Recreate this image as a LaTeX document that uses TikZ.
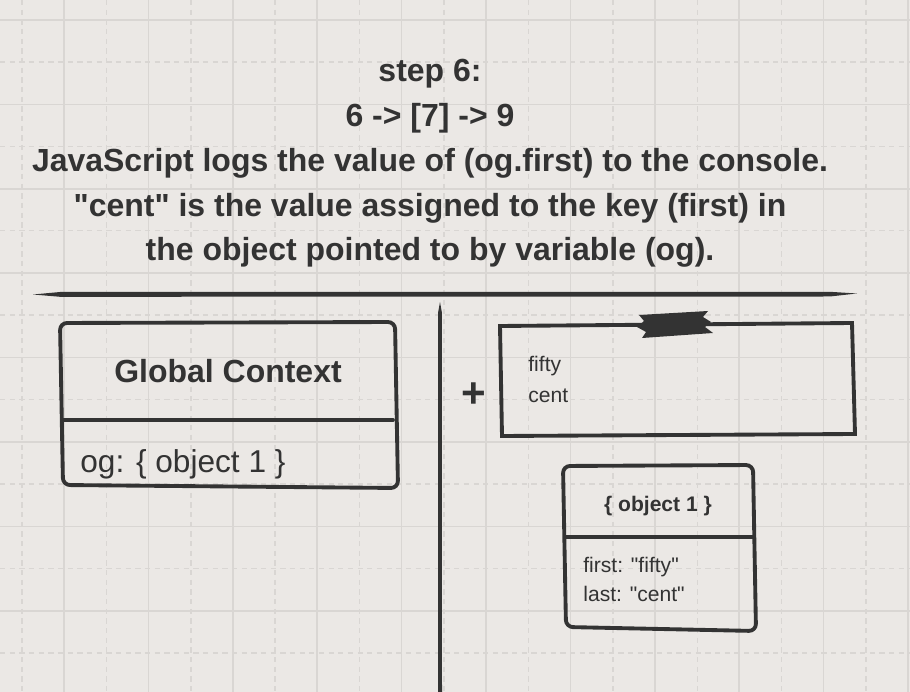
\documentclass[tikz,border=0pt]{standalone}
\usepackage{fontspec}
\setmainfont{Liberation Sans}[Ligatures=TeXOff]
\usepackage{xcolor}
\usepackage{tikz}
\usetikzlibrary{positioning, calc}
\definecolor{ink}{HTML}{333333}
\definecolor{paper}{HTML}{EBE8E5}
\definecolor{gridline}{HTML}{D9D6D3}
\tikzstyle{sketch} = [draw=ink, line width=2.2pt, line join=round, line cap=round]
\tikzstyle{headline} = [font=\fontsize{18.2}{22}\selectfont\bfseries, text=ink, inner sep=0pt, anchor=base]
\tikzstyle{bigtext} = [font=\fontsize{18}{22}\selectfont, text=ink, inner sep=0pt, anchor=base west]
\tikzstyle{smalltext} = [font=\fontsize{12}{14}\selectfont, text=ink, inner sep=0pt, anchor=base west]
\tikzstyle{smallhead} = [font=\fontsize{12}{14}\selectfont\bfseries, text=ink, inner sep=0pt, anchor=base]

\begin{document}
\begin{tikzpicture}[x=0.02cm, y=-0.02cm]
    % Paper and grid
    \fill[paper] (0, 0) rectangle (910, 692);
    \useasboundingbox (0, 0) rectangle (910, 692);
    \foreach \g in {0,...,10} {
        \draw[gridline, line width=1pt] ({64+84.4*\g}, 0) -- ({64+84.4*\g}, 692);
        \draw[gridline, line width=0.8pt, dash pattern=on 3pt off 2.5pt] ({22+84.4*\g}, 0) -- ({22+84.4*\g}, 692);
    }
    \foreach \g in {0,...,8} {
        \draw[gridline, line width=1pt] (0, {20+84.4*\g}) -- (910, {20+84.4*\g});
        \draw[gridline, line width=0.8pt, dash pattern=on 3pt off 2.5pt] (0, {62+84.4*\g}) -- (910, {62+84.4*\g});
    }

    % Heading
    \node[headline] (stepline) at (430, 82) {step 6:};
    \node[headline] (flowline) at (430, 127) {6 -> [7] -> 9};
    \node[headline] (logline) at (430, 172) {JavaScript logs the value of (og.first) to the console.};
    \node[headline] (valueline) at (430, 217) {"cent" is the value assigned to the key (first) in};
    \node[headline] (objline) at (430, 261) {the object pointed to by variable (og).};

    % Dividers
    \fill[ink] (33, 294.5) -- (60, 292) -- (830, 291.8) -- (857, 293.5) -- (830, 296.5) -- (60, 296.8) -- cycle;
    \fill[ink] (440, 302) -- (441.8, 312) -- (442, 692) -- (438, 692) -- (438.2, 312) -- cycle;

    % Global context box
    \draw[sketch, rounded corners=4pt] (60, 323) -- (395, 322) -- (398, 488) -- (63, 485) -- cycle;
    \draw[sketch] (62, 420) -- (393, 420);
    \node[headline] (globalhead) at (228, 383) {Global Context};
    \node[bigtext] (ogvar) at (80, 473) {og: \{ object 1 \}};

    % Console box
    \node[font=\fontsize{24}{26}\selectfont\bfseries, text=ink, inner sep=0pt] (plus) at (474, 395) {+};
    \draw[sketch, line join=miter] (500, 326) -- (852, 323) -- (855, 434) -- (502, 436) -- cycle;
    \fill[ink] (639, 315) -- (708, 311) -- (703, 317) -- (711, 322) -- (705, 327) -- (713, 333)
        -- (642, 338) -- (646, 332) -- (637, 327) -- (644, 321) -- cycle;
    \node[smalltext] (logfifty) at (528, 372) {fifty};
    \node[smalltext] (logcent) at (528, 403) {cent};

    % Object box
    \draw[sketch, rounded corners=4pt] (563, 466) -- (753, 465) -- (756, 631) -- (566, 627) -- cycle;
    \draw[sketch] (565, 537) -- (754, 537);
    \node[smallhead] (objhead) at (658, 512) {\{ object 1 \}};
    \node[smalltext] (firstkey) at (583, 573) {first: "fifty"};
    \node[smalltext] (lastkey) at (583, 602) {last: "cent"};
\end{tikzpicture}
\end{document}
